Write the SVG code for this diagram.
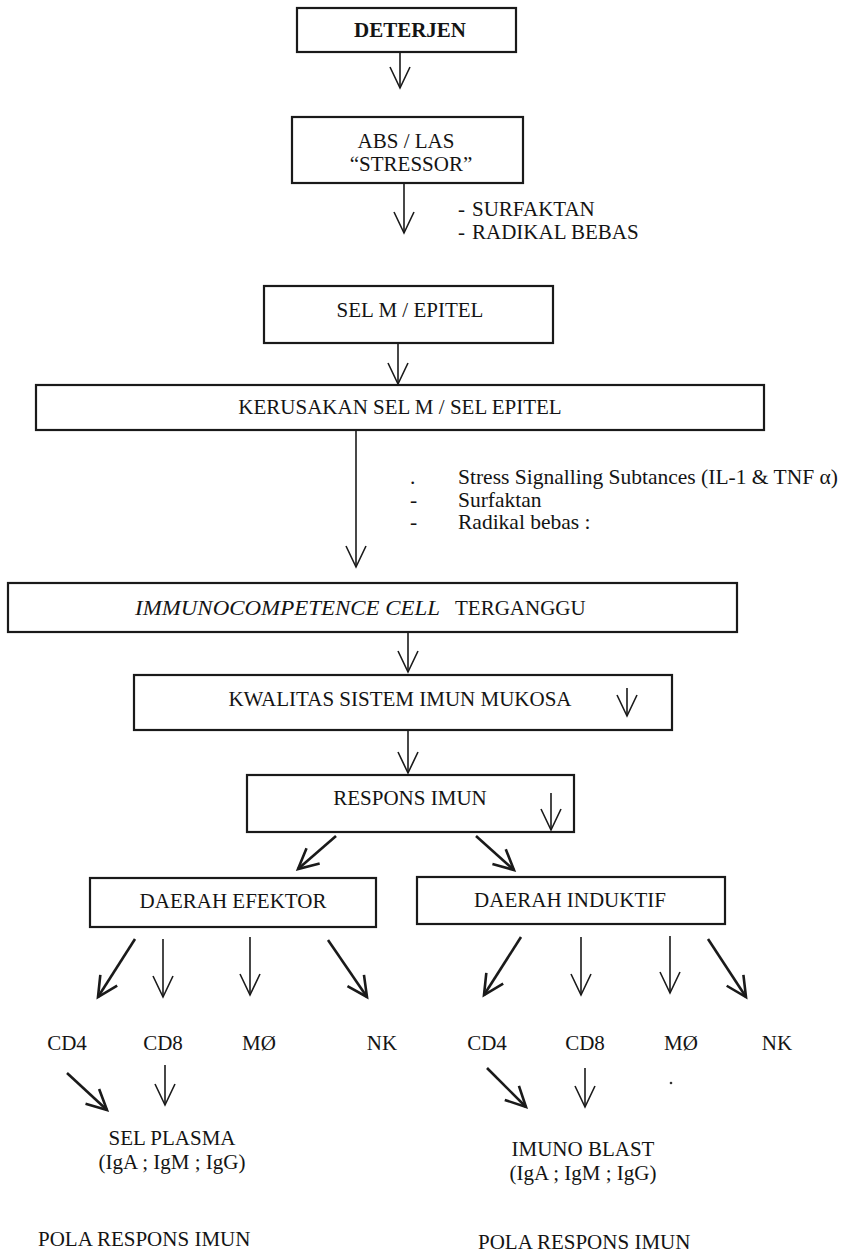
<svg xmlns="http://www.w3.org/2000/svg" width="843" height="1254" viewBox="0 0 843 1254">
<defs>
<style>
text{font-family:"Liberation Serif","Times New Roman",serif;font-size:21px;fill:#141414}
.c{text-anchor:middle}
.lst{font-size:21.5px}
.box{fill:#fff;stroke:#1a1a1a;stroke-width:2.2}
.ln{fill:none;stroke:#1a1a1a;stroke-width:1.6}
.thick{fill:none;stroke:#1a1a1a;stroke-width:2.6}
</style>
<marker id="ah" markerUnits="userSpaceOnUse" markerWidth="26" markerHeight="26" viewBox="-23 -13 26 26" refX="0" refY="0" orient="auto" overflow="visible">
<path d="M-21,-10 L0,0 L-21,10" fill="none" stroke="#1a1a1a" stroke-width="1.6"/>
</marker>
<marker id="ahT" markerUnits="userSpaceOnUse" markerWidth="26" markerHeight="26" viewBox="-23 -13 26 26" refX="0" refY="0" orient="auto" overflow="visible">
<path d="M-20,-10 L0,0 L-20,10" fill="none" stroke="#1a1a1a" stroke-width="2.6"/>
</marker>
</defs>
<rect width="843" height="1254" fill="#fff"/>

<g id="deterjen">
<rect class="box" x="297" y="8" width="219" height="44"/>
<text class="c" x="410" y="37" font-weight="bold">DETERJEN</text>
</g>
<g id="abs-las">
<rect class="box" x="292" y="117" width="231" height="66"/>
<text class="c" x="406" y="148">ABS / LAS</text>
<text class="c" x="411" y="171">“STRESSOR”</text>
</g>
<g id="label-stressor">
<text x="458" y="216">-<tspan x="472">SURFAKTAN</tspan></text>
<text x="458" y="239">-<tspan x="472">RADIKAL BEBAS</tspan></text>
</g>
<g id="sel-m">
<rect class="box" x="264" y="286" width="289" height="57"/>
<text class="c" x="410" y="317">SEL M / EPITEL</text>
</g>
<g id="kerusakan">
<rect class="box" x="36" y="385" width="728" height="45"/>
<text class="c" x="400" y="414">KERUSAKAN SEL M / SEL EPITEL</text>
</g>
<g id="label-stress">
<text class="lst" x="410" y="484">.</text>
<text class="lst" x="458" y="484">Stress Signalling Subtances (IL-1 &amp; TNF α)</text>
<text class="lst" x="410" y="507">-</text>
<text class="lst" x="458" y="507">Surfaktan</text>
<text class="lst" x="410" y="529">-</text>
<text class="lst" x="458" y="529">Radikal bebas :</text>
</g>
<g id="immunocompetence">
<rect class="box" x="8" y="583" width="729" height="49"/>
<text x="135" y="615" font-style="italic" textLength="305" lengthAdjust="spacingAndGlyphs">IMMUNOCOMPETENCE CELL</text>
<text x="455" y="615">TERGANGGU</text>
</g>
<g id="kwalitas">
<rect class="box" x="134" y="675" width="538" height="55"/>
<text class="c" x="400" y="706">KWALITAS SISTEM IMUN MUKOSA</text>
<line class="ln" x1="627" y1="688" x2="627" y2="716" marker-end="url(#ah)"/>
</g>
<g id="respons">
<rect class="box" x="247" y="775" width="327" height="57"/>
<text class="c" x="410" y="805">RESPONS IMUN</text>
<line class="ln" x1="551" y1="793" x2="551" y2="830" marker-end="url(#ah)"/>
</g>
<g id="efektor">
<rect class="box" x="90" y="878" width="286" height="49"/>
<text class="c" x="233" y="908">DAERAH EFEKTOR</text>
</g>
<g id="induktif">
<rect class="box" x="417" y="877" width="308" height="47"/>
<text class="c" x="570" y="907">DAERAH INDUKTIF</text>
</g>
<g id="cells-efektor">
<text class="c" x="67" y="1050">CD4</text>
<text class="c" x="163" y="1050">CD8</text>
<text class="c" x="259" y="1050">MØ</text>
<text class="c" x="382" y="1050">NK</text>
</g>
<g id="cells-induktif">
<text class="c" x="487" y="1050">CD4</text>
<text class="c" x="585" y="1050">CD8</text>
<text class="c" x="681" y="1050">MØ</text>
<text class="c" x="777" y="1050">NK</text>
<circle cx="671" cy="1083" r="1.3" fill="#333"/>
</g>
<g id="sel-plasma">
<text class="c" x="172" y="1145">SEL PLASMA</text>
<text class="c" x="172" y="1169">(IgA ; IgM ; IgG)</text>
</g>
<g id="imuno-blast">
<text class="c" x="583" y="1156">IMUNO BLAST</text>
<text class="c" x="583" y="1180">(IgA ; IgM ; IgG)</text>
</g>
<g id="pola-left">
<text x="38" y="1246">POLA RESPONS IMUN</text>
</g>
<g id="pola-right">
<text x="478" y="1249">POLA RESPONS IMUN</text>
</g>

<g id="connectors">
<line class="ln" x1="400" y1="52" x2="400" y2="88" marker-end="url(#ah)"/>
<line class="ln" x1="404" y1="184" x2="404" y2="233" marker-end="url(#ah)"/>
<line class="ln" x1="398" y1="343" x2="398" y2="384" marker-end="url(#ah)"/>
<line class="ln" x1="356" y1="430" x2="356" y2="567" marker-end="url(#ah)"/>
<line class="ln" x1="408" y1="632" x2="408" y2="672" marker-end="url(#ah)"/>
<line class="ln" x1="408" y1="730" x2="408" y2="773" marker-end="url(#ah)"/>
<line class="thick" x1="336" y1="836" x2="298" y2="869" marker-end="url(#ahT)"/>
<line class="thick" x1="476" y1="836" x2="514" y2="870" marker-end="url(#ahT)"/>
<line class="thick" x1="135" y1="939" x2="98" y2="997" marker-end="url(#ahT)"/>
<line class="ln" x1="163" y1="939" x2="163" y2="997" marker-end="url(#ah)"/>
<line class="ln" x1="250" y1="937" x2="250" y2="995" marker-end="url(#ah)"/>
<line class="thick" x1="328" y1="940" x2="367" y2="997" marker-end="url(#ahT)"/>
<line class="thick" x1="521" y1="937" x2="484" y2="995" marker-end="url(#ahT)"/>
<line class="ln" x1="581" y1="937" x2="581" y2="995" marker-end="url(#ah)"/>
<line class="ln" x1="670" y1="936" x2="670" y2="993" marker-end="url(#ah)"/>
<line class="thick" x1="708" y1="939" x2="746" y2="997" marker-end="url(#ahT)"/>
<line class="thick" x1="67" y1="1073" x2="107" y2="1110" marker-end="url(#ahT)"/>
<line class="ln" x1="165" y1="1065" x2="165" y2="1105" marker-end="url(#ah)"/>
<line class="thick" x1="487" y1="1068" x2="526" y2="1107" marker-end="url(#ahT)"/>
<line class="ln" x1="585" y1="1068" x2="585" y2="1107" marker-end="url(#ah)"/>
</g>
</svg>
